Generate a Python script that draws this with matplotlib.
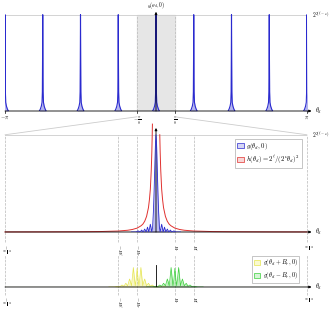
import numpy as np
import matplotlib.pyplot as plt
from matplotlib.patches import Patch, ConnectionPatch

plt.rcParams['mathtext.fontset'] = 'cm'
plt.rcParams['font.family'] = 'DejaVu Serif'
plt.rcParams['font.size'] = 4.5

# peak centres of g(theta_d, 0) on [-pi, pi], in multiples of pi/4
peak_k = [-4, -3, -2, -1, 0, 1, 2, 3, 4]
# one-sided peak shape in the full view (offset in rad, height / 2^{2(l-nu)})
top_off = [0.0, 0.004, 0.008, 0.015, 0.03, 0.05, 0.07]
top_val = [1.0, 0.55, 0.2, 0.09, 0.05, 0.02, 0.0]
# one-sided peak shape in the zoomed view (offset in units of B_r)
lobe_off = [0.0, 0.03, 0.06, 0.1, 0.14, 0.18, 0.22, 0.3, 0.38, 0.45, 0.52,
            0.6, 0.68, 0.76, 0.84, 0.95, 1.05, 1.3]
lobe_val = [1.0, 0.9, 0.7, 0.42, 0.2, 0.05, 0.0, 0.08, 0.0, 0.05, 0.0,
            0.03, 0.0, 0.02, 0.0, 0.012, 0.0, 0.0]
# h(theta_d) (offset in units of B_r)
h_off = [0.19, 0.2, 0.22, 0.25, 0.3, 0.35, 0.4, 0.5, 0.6, 0.7, 0.8, 1.0, 1.25,
         1.5, 2.0, 3.0, 4.0, 6.0, 8.0]
h_val = [1.11, 1.0, 0.83, 0.64, 0.44, 0.33, 0.25, 0.16, 0.11, 0.08, 0.063,
         0.04, 0.026, 0.018, 0.01, 0.0044, 0.0025, 0.0011, 0.0006]
# shifted kernels in the bottom view (offset in units of B_r)
sh_off = [0.0, 0.05, 0.1, 0.15, 0.2, 0.25, 0.3, 0.35, 0.4, 0.5, 0.6, 0.7, 0.8,
          0.9, 1.0, 1.2, 1.5]
sh_val = [0.75, 0.3, 0.05, 0.4, 0.78, 0.4, 0.05, 0.2, 0.32, 0.05, 0.15, 0.03,
          0.08, 0.02, 0.03, 0.0, 0.0]

B_r = np.pi / 64
B_l = 2 * B_r
edge = np.pi / 8

blue = '#2a2acf'
red = '#e0312f'
yellow = '#e6e650'
green = '#3cd03c'
grey = '#b8b8b8'


def mirror(off, val):
    off = np.asarray(off)
    val = np.asarray(val)
    return (np.concatenate([-off[::-1], off[1:]]),
            np.concatenate([val[::-1], val[1:]]))


W, H = 332, 311
fig = plt.figure(figsize=(W / 100, H / 100), dpi=100)


def axes_px(x0, x1, ybase, ytop):
    return fig.add_axes([x0 / W, 1 - ybase / H, (x1 - x0) / W, (ybase - ytop) / H])


def arrow(ax, start, end):
    ax.annotate('', xy=end, xytext=start,
                arrowprops=dict(arrowstyle='-|>', lw=0.6, color='k',
                                mutation_scale=3.5, shrinkA=0, shrinkB=0),
                annotation_clip=False)


X0, X1 = 5, 307

# ---- top: full period view
ax1 = axes_px(X0, X1, 111, 7)
ax1.set_xlim(-np.pi, np.pi)
ax1.set_ylim(0, 1.08)
ax1.axis('off')
ax1.axvspan(-edge, edge, ymax=1 / 1.08, color='#e6e6e6', zorder=0)
for xv in (-edge, edge):
    ax1.plot([xv, xv], [0, 1], ls='--', color=grey, lw=0.5, zorder=1)
ax1.plot([-np.pi, np.pi], [1, 1], color='#cccccc', lw=0.6, zorder=1)
px, py = mirror(top_off, top_val)
for k in peak_k:
    c = k * np.pi / 4
    ax1.fill_between(c + px, py, color=blue, alpha=0.35, lw=0, zorder=2)
    ax1.plot(c + px, py, color=blue, lw=0.8, zorder=3)
arrow(ax1, (-np.pi, 0), (np.pi * 1.03, 0))
arrow(ax1, (0, 0), (0, 1.03))
ax1.text(np.pi * 1.05, 0, r'$\theta_d$', ha='left', va='center')
ax1.text(0, 1.035, r'$g(\theta_d, 0)$', ha='center', va='bottom', fontsize=3.8)
ax1.text(np.pi * 1.035, 1.0, r'$2^{2(\ell-\nu)}$', ha='left', va='center',
         fontsize=4)
for xv, lab in [(-np.pi, r'$-\pi$'), (-edge, r'$-\frac{\pi}{8}$'),
                (edge, r'$\frac{\pi}{8}$'), (np.pi, r'$\pi$')]:
    ax1.plot([xv, xv], [0, -0.025], color='k', lw=0.5, clip_on=False)
    ax1.text(xv, -0.04, lab, ha='center', va='top', fontsize=4)

# ---- middle: zoom on [-pi/8, pi/8]
ax2 = axes_px(X0, X1, 232, 127)
ax2.set_xlim(-edge, edge)
ax2.set_ylim(0, 1.08)
ax2.axis('off')
ax2.plot([-edge, edge], [1, 1], color='#cccccc', lw=0.6, zorder=1)
ticks = [(-edge, r'$-\frac{\pi}{8}$'), (-B_l, r'$-B_\ell$'), (-B_r, r'$-B_r$'),
         (B_r, r'$B_r$'), (B_l, r'$B_\ell$'), (edge, r'$\frac{\pi}{8}$')]
for xv, lab in ticks:
    ax2.plot([xv, xv], [-0.1, 1], ls='--', color=grey, lw=0.5, zorder=1,
             clip_on=False)
    ax2.text(xv, -0.12, lab, ha='center', va='top', rotation=-90, fontsize=3.8)
hx, hy = mirror(h_off, h_val)
n = len(h_off)
hx = np.concatenate([hx[:n], [np.nan], hx[n:]])
hy = np.concatenate([hy[:n], [np.nan], hy[n:]])
ax2.plot(hx * B_r, hy, color=red, lw=0.7, zorder=3, clip_on=False)
lx, ly = mirror(lobe_off, lobe_val)
ax2.fill_between(lx * B_r, ly, color=blue, alpha=0.3, lw=0, zorder=2)
ax2.plot(lx * B_r, ly, color=blue, lw=0.6, zorder=4)
ax2.plot([-edge, edge], [0, 0], color='#7a1030', lw=0.8, zorder=3)
arrow(ax2, (-edge, 0), (edge * 1.03, 0))
arrow(ax2, (0, 0), (0, 1.07))
ax2.text(edge * 1.05, 0, r'$\theta_d$', ha='left', va='center')
ax2.text(edge * 1.035, 1.0, r'$2^{2(\ell-\nu)}$', ha='left', va='center',
         fontsize=4)
leg = ax2.legend(handles=[Patch(facecolor='#d6d6f5', edgecolor=blue, lw=0.5,
                                label=r'$g(\theta_d, 0)$'),
                          Patch(facecolor='#f8d6d6', edgecolor=red, lw=0.5,
                                label=r'$h(\theta_d) = 2^\ell/(2^\nu\theta_d)^2$')],
                 loc='upper right', bbox_to_anchor=(0.995, 0.92), fontsize=4.8,
                 frameon=True, fancybox=False, edgecolor='#999999',
                 handlelength=1.0, handleheight=0.8, borderpad=0.3,
                 labelspacing=0.3, handletextpad=0.4)
leg.get_frame().set_linewidth(0.5)

# shaded region of the top view expands into the middle view
for xa, xb in [(-edge, -edge), (edge, edge)]:
    con = ConnectionPatch(xyA=(xa, -0.06), coordsA=ax1.transData,
                          xyB=(xb, 1.0), coordsB=ax2.transData,
                          color='#cccccc', lw=0.6)
    fig.add_artist(con)

# ---- bottom: shifted kernels
ax3 = axes_px(X0, X1, 287, 255)
ax3.set_xlim(-edge, edge)
ax3.set_ylim(0, 1.28)
ax3.axis('off')
for xv, lab in ticks:
    ax3.plot([xv, xv], [-0.3, 1.28], ls='--', color=grey, lw=0.5, zorder=1,
             clip_on=False)
    ax3.text(xv, -0.35, lab, ha='center', va='top', rotation=-90, fontsize=3.8)
sx, sy = mirror(sh_off, sh_val)
ax3.fill_between(-B_r + sx * B_r, sy, color=yellow, alpha=0.35, lw=0, zorder=2)
ax3.plot(-B_r + sx * B_r, sy, color=yellow, lw=0.5, zorder=3)
ax3.fill_between(B_r + sx * B_r, sy, color=green, alpha=0.35, lw=0, zorder=2)
ax3.plot(B_r + sx * B_r, sy, color=green, lw=0.5, zorder=3)
ax3.plot([-edge, edge], [0, 0], color='#5a7a20', lw=0.8, zorder=3)
arrow(ax3, (-edge, 0), (edge * 1.03, 0))
ax3.plot([0, 0], [0, 0.9], color='k', lw=0.6, zorder=4)
ax3.text(edge * 1.05, 0, r'$\theta_d$', ha='left', va='center')
leg = ax3.legend(handles=[Patch(facecolor='#fafad0', edgecolor=yellow, lw=0.5,
                                label=r'$g(\theta_d + B_r, 0)$'),
                          Patch(facecolor='#d6f5d6', edgecolor=green, lw=0.5,
                                label=r'$g(\theta_d - B_r, 0)$')],
                 loc='upper right', bbox_to_anchor=(0.985, 1.08), fontsize=4.5,
                 frameon=True, fancybox=False, edgecolor='#999999',
                 handlelength=1.0, handleheight=0.8, borderpad=0.3,
                 labelspacing=0.3, handletextpad=0.4)
leg.get_frame().set_linewidth(0.5)

fig.savefig('out.png', dpi=100)
